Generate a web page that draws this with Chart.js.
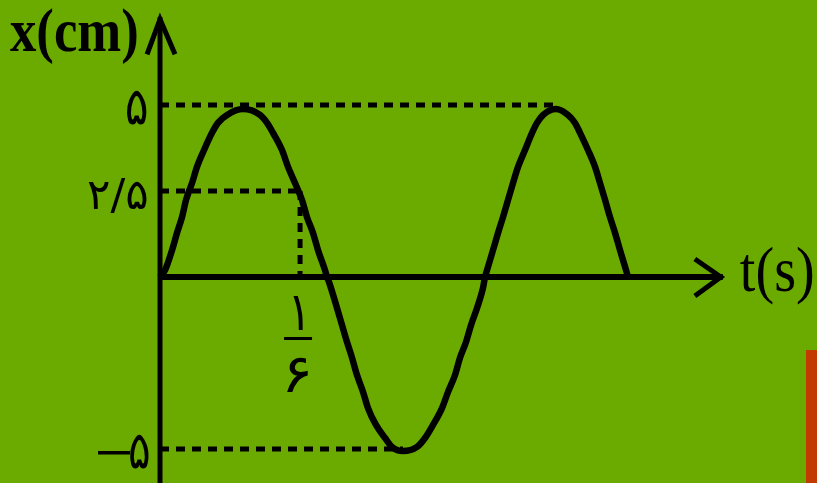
<!DOCTYPE html>
<html><head><meta charset="utf-8">
<script src="https://cdn.jsdelivr.net/npm/chart.js@4/dist/chart.umd.min.js"></script>
<style>
html,body{margin:0;padding:0;background:#6bab00;overflow:hidden}
#wrap{position:relative;width:817px;height:483px}
</style></head>
<body><div id="wrap"><canvas id="c" width="817" height="483"></canvas></div>
<script>
// ---- data ----
const timeValues = [
  0, 0.0060, 0.0143, 0.0202, 0.0262, 0.0310, 0.0381, 0.0440, 0.0524, 0.0619, 0.0690, 0.0798, 0.0988,
  0.1190, 0.1274, 0.1345, 0.1452, 0.1524, 0.1607, 0.1690, 0.1750, 0.1821, 0.1881, 0.1964, 0.1988,
  0.2012, 0.2107, 0.2167, 0.2226, 0.2286, 0.2345, 0.2417, 0.2476, 0.2571, 0.2679, 0.2762, 0.2893,
  0.3060, 0.3155, 0.3250, 0.3357, 0.3429, 0.3512, 0.3571, 0.3643, 0.3702, 0.3774, 0.3845, 0.3869,
  0.3893, 0.3964, 0.4024, 0.4083, 0.4143, 0.4202, 0.4262, 0.4345, 0.4429, 0.4488, 0.4560, 0.4714,
  0.4857, 0.4940, 0.5000, 0.5095, 0.5179, 0.5238, 0.5298, 0.5357, 0.5417, 0.5476, 0.5548, 0.5571
];
const displacementValues = [
  0, 0.20, 0.78, 1.28, 1.74, 2.24, 2.73, 3.20, 3.69, 4.19, 4.48, 4.71, 4.88,
  4.71, 4.48, 4.19, 3.69, 3.20, 2.73, 2.24, 1.74, 1.28, 0.78, 0.20, 0,
  -0.15, -0.90, -1.40, -1.89, -2.35, -2.85, -3.34, -3.81, -4.30, -4.68, -4.94, -5.06,
  -4.94, -4.68, -4.30, -3.81, -3.34, -2.85, -2.35, -1.89, -1.40, -0.90, -0.32, 0,
  0.20, 0.78, 1.28, 1.74, 2.24, 2.73, 3.20, 3.69, 4.19, 4.48, 4.71, 4.88,
  4.71, 4.48, 4.19, 3.69, 3.20, 2.73, 2.24, 1.74, 1.28, 0.78, 0.20, 0
];
const yTickValues = [5, 2.5, -5];
const yTickLabels = ['۵', '۲/۵', '−۵'];
const xTickValue = 0.1667;
const xTickNumerator = '۱';
const xTickDenominator = '۶';
const xAxisTitle = 't(s)';
const yAxisTitle = 'x(cm)';
const xAxisEnd = 0.67;   // t where the arrow tip sits
const yAxisEnd = 7.55;   // x where the arrow tip sits

const points = timeValues.map((t, i) => ({x: t, y: displacementValues[i]}));

function fitText(ctx, text, font, x0, y0, x1, y1) {
  ctx.save();
  ctx.font = font;
  const m = ctx.measureText(text);
  const w = m.actualBoundingBoxLeft + m.actualBoundingBoxRight;
  const h = m.actualBoundingBoxAscent + m.actualBoundingBoxDescent;
  ctx.translate(x0, y0);
  ctx.scale((x1 - x0) / w, (y1 - y0) / h);
  ctx.textAlign = 'left';
  ctx.textBaseline = 'alphabetic';
  ctx.fillStyle = '#000';
  ctx.fillText(text, m.actualBoundingBoxLeft, m.actualBoundingBoxAscent);
  ctx.restore();
}

const decor = {
  id: 'decor',
  beforeDraw(chart) {
    const ctx = chart.ctx;
    ctx.save();
    ctx.fillStyle = '#6bab00';
    ctx.fillRect(0, 0, chart.width, chart.height);
    ctx.restore();
  },
  beforeDatasetsDraw(chart) {
    const ctx = chart.ctx, xs = chart.scales.x, ys = chart.scales.y;
    const X = v => xs.getPixelForValue(v), Y = v => ys.getPixelForValue(v);
    const minV = Math.min(...displacementValues);
    const troughIdx = displacementValues.indexOf(minV);
    const troughT = timeValues[troughIdx];
    let lastPeakIdx = troughIdx;
    for (let i = troughIdx; i < displacementValues.length; i++) {
      if (displacementValues[i] > displacementValues[lastPeakIdx]) lastPeakIdx = i;
    }
    const lastPeakT = timeValues[lastPeakIdx];
    ctx.save();
    ctx.strokeStyle = '#000';
    ctx.lineWidth = 5;
    ctx.setLineDash([9, 7]);
    const seg = (a, b, c, d) => { ctx.beginPath(); ctx.moveTo(a, b); ctx.lineTo(c, d); ctx.stroke(); };
    seg(X(0), Y(yTickValues[0]), X(lastPeakT), Y(yTickValues[0]));
    seg(X(0), Y(yTickValues[1]), X(xTickValue), Y(yTickValues[1]));
    seg(X(xTickValue), Y(yTickValues[1]), X(xTickValue), Y(0));
    seg(X(0), Y(yTickValues[2]), X(troughT), Y(yTickValues[2]));
    ctx.setLineDash([]);
    // axes
    ctx.lineWidth = 5;
    seg(X(0), Y(yAxisEnd), X(0), chart.chartArea.bottom);
    ctx.lineWidth = 6;
    seg(X(0), Y(0), X(xAxisEnd), Y(0));
    // arrow heads
    ctx.lineWidth = 5;
    ctx.lineJoin = 'miter';
    ctx.beginPath();
    ctx.moveTo(X(0) - 13, Y(yAxisEnd) + 37);
    ctx.lineTo(X(0), Y(yAxisEnd) + 2);
    ctx.lineTo(X(0) + 15, Y(yAxisEnd) + 37);
    ctx.stroke();
    ctx.beginPath();
    ctx.moveTo(X(xAxisEnd) - 28, Y(0) - 18);
    ctx.lineTo(X(xAxisEnd) - 2, Y(0));
    ctx.lineTo(X(xAxisEnd) - 28, Y(0) + 19);
    ctx.stroke();
    ctx.restore();

    // y tick labels
    const pf = "40px 'DejaVu Sans'";
    const offs = [2, 4, 1];
    yTickValues.forEach((v, i) => {
      const ty = Y(v) + offs[i];
      let lab = yTickLabels[i];
      if (lab.startsWith('−')) {
        ctx.save(); ctx.fillStyle = '#000';
        ctx.fillRect(X(0) - 62, Y(v) + 2, 32, 3.5);
        ctx.restore();
        lab = lab.slice(1);
        fitText(ctx, lab, pf, X(0) - 30, ty - 16, X(0) - 11, ty + 18);
      } else if (lab.length > 1) {
        fitText(ctx, lab, pf, X(0) - 72, ty - 18, X(0) - 13, ty + 18);
      } else {
        fitText(ctx, lab, pf, X(0) - 33, ty - 17, X(0) - 13, ty + 17);
      }
    });
    // x tick label (fraction)
    const tx = X(xTickValue), ay = Y(0);
    fitText(ctx, xTickNumerator, pf, tx - 7, ay + 18, tx + 3, ay + 53);
    ctx.save(); ctx.fillStyle = '#000';
    ctx.fillRect(tx - 16, ay + 60, 28, 3);
    ctx.restore();
    fitText(ctx, xTickDenominator, pf, tx - 13, ay + 80, tx + 8, ay + 115);
    // axis titles
    fitText(ctx, yAxisTitle, "bold 50px 'Liberation Serif'", 10, 7, 137, 65);
    fitText(ctx, xAxisTitle, "50px 'Liberation Serif'", X(xAxisEnd) + 17, Y(0) - 31, X(xAxisEnd) + 90, Y(0) + 28);
  },
  afterDraw(chart) {
    const ctx = chart.ctx;
    ctx.save();
    ctx.fillStyle = '#c23a00';
    ctx.fillRect(806, 350, 11, 133);
    ctx.restore();
  }
};

new Chart(document.getElementById('c'), {
  type: 'line',
  data: {
    datasets: [{
      data: points,
      borderColor: '#000',
      borderWidth: 6.5,
      pointRadius: 0,
      fill: false,
      cubicInterpolationMode: 'monotone'
    }]
  },
  options: {
    responsive: false,
    animation: false,
    devicePixelRatio: 1,
    layout: {padding: 0},
    plugins: {legend: {display: false}, tooltip: {enabled: false}},
    scales: {
      x: {type: 'linear', display: false, min: -0.1905, max: 0.7821},
      y: {type: 'linear', display: false, min: -5.988, max: 8.052}
    }
  },
  plugins: [decor]
});
</script>
</body></html>
